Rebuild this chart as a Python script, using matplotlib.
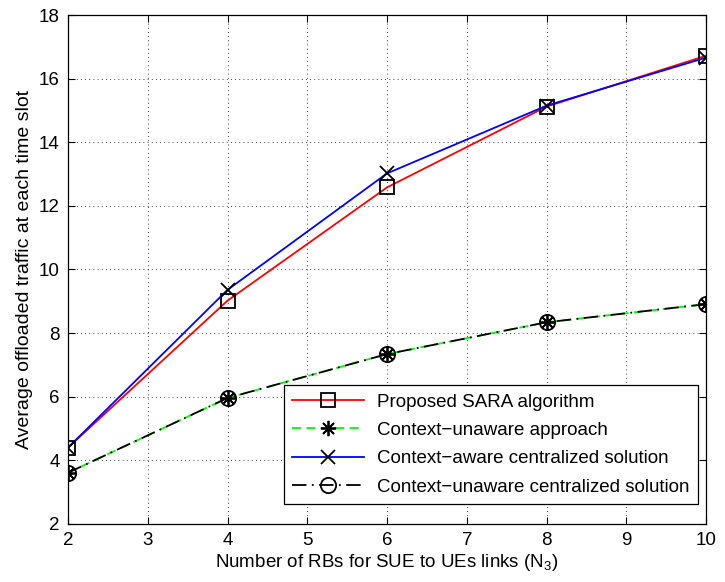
import matplotlib
matplotlib.use("Agg")
import matplotlib.pyplot as plt

plt.rcParams['font.family'] = ['Liberation Sans', 'DejaVu Sans']
plt.rcParams['mathtext.default'] = 'regular'

# Number of RBs for SUE-to-UE links
n_rbs = [2, 4, 6, 8, 10]

# Average offloaded traffic per time slot for each scheme
sara = [4.4, 9.02, 12.58, 15.12, 16.72]
ctx_unaware = [3.61, 5.96, 7.34, 8.34, 8.91]
ctx_aware_central = [4.4, 9.36, 13.02, 15.15, 16.66]
ctx_unaware_central = [3.61, 5.96, 7.34, 8.34, 8.91]

labels = [
    "Proposed SARA algorithm",
    "Context\u2212unaware approach",
    "Context\u2212aware centralized solution",
    "Context\u2212unaware centralized solution",
]

x_ticks = [2, 3, 4, 5, 6, 7, 8, 9, 10]
y_ticks = [2, 4, 6, 8, 10, 12, 14, 16, 18]

fs = 13.5

fig = plt.figure(figsize=(7.25, 5.82), dpi=100)
ax = fig.add_axes([0.0938, 0.0997, 0.88, 0.8745])

lw = 1.3
ms = 10
ax.plot(n_rbs, sara, color='red', lw=lw, marker='s', ms=ms,
        mfc='none', mec='black', mew=1.3, label=labels[0], zorder=3)
ax.plot(n_rbs, ctx_unaware, color='#00ff00', lw=lw, ls=(0, (5, 3)),
        marker=(8, 2, 0), ms=ms + 1, mfc='none', mec='black', mew=1.3,
        label=labels[1], zorder=3)
ax.plot(n_rbs, ctx_aware_central, color='blue', lw=lw, marker='x',
        ms=ms, mec='black', mew=1.3, label=labels[2], zorder=4)
ax.plot(n_rbs, ctx_unaware_central, color='black', lw=lw,
        ls=(0, (8, 3, 1, 3)), marker='o', ms=ms + 1, mfc='none',
        mec='black', mew=1.3, label=labels[3], zorder=4)

ax.set_xlim(2, 10)
ax.set_ylim(2, 18)
ax.set_xticks(x_ticks)
ax.set_yticks(y_ticks)
ax.tick_params(direction='in', length=5, width=0.8, top=True, right=True,
               labelsize=fs, pad=6)
ax.grid(True, color='black', ls=(0, (1, 4)), lw=0.6)
for s in ax.spines.values():
    s.set_linewidth(0.9)

ax.set_xlabel("Number of RBs for SUE to UEs links (N$_3$)", fontsize=fs,
              labelpad=2)
ax.set_ylabel("Average offloaded traffic at each time slot", fontsize=14,
              labelpad=4)

leg = ax.legend(loc='lower right', bbox_to_anchor=(0.987, 0.039),
                borderaxespad=0, fontsize=fs, fancybox=False,
                edgecolor='black', framealpha=1, handlelength=3.8,
                handletextpad=0.7, labelspacing=0.6, borderpad=0.45)
leg.get_frame().set_linewidth(0.9)

fig.savefig("out.png", dpi=100)
